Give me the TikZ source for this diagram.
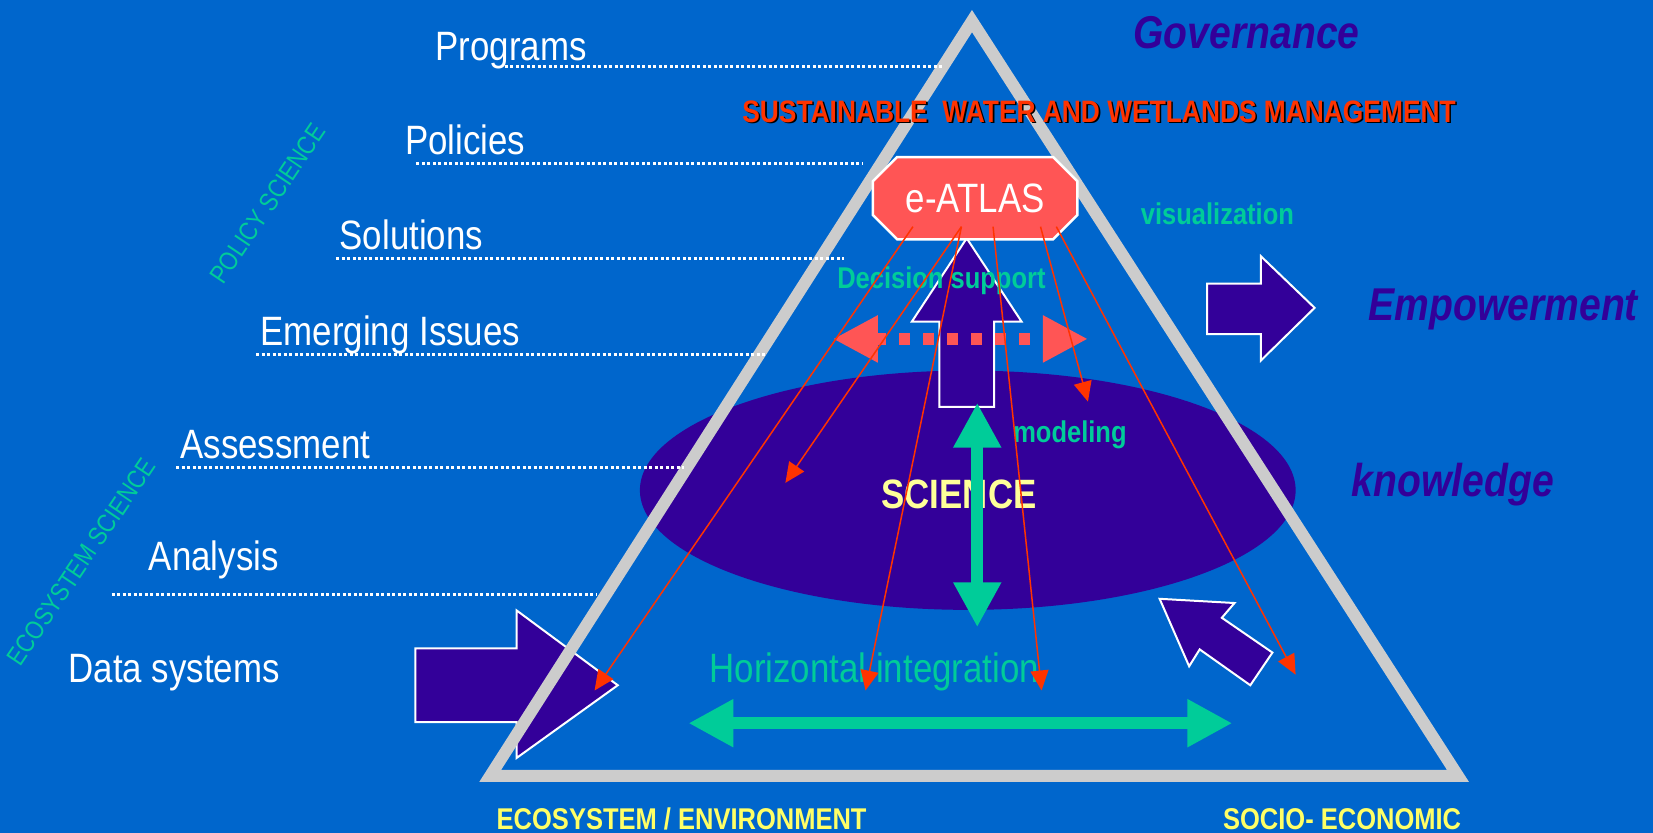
\documentclass[tikz,border=0pt]{standalone}
\usepackage{fontspec}
\setmainfont[FakeStretch=0.85]{Liberation Sans}
\usetikzlibrary{arrows.meta}
\definecolor{bgblue}{RGB}{0,102,204}
\definecolor{deeppurple}{RGB}{51,0,153}
\definecolor{mint}{RGB}{0,204,153}
\definecolor{salmon}{RGB}{255,85,85}
\definecolor{linkred}{RGB}{255,51,0}
\definecolor{framegray}{RGB}{204,204,204}
\definecolor{labelyellow}{RGB}{255,255,102}
\definecolor{paleyellow}{RGB}{255,255,153}
\newcommand{\fsz}[1]{\fontsize{#1}{#1}\selectfont}

\begin{document}
\begin{tikzpicture}[
    x=1.0542pt, y=-1.0542pt,
    lbl/.style={anchor=base west, inner sep=0pt, text=white, font=\fsz{41}},
    side/.style={anchor=base west, inner sep=0pt, text=deeppurple,
      font=\fsz{46}\bfseries\itshape},
    note/.style={anchor=base west, inner sep=0pt, text=mint, font=\fsz{30}\bfseries},
    foot/.style={anchor=base west, inner sep=0pt, text=labelyellow, font=\fsz{30}\bfseries},
    title/.style={anchor=base west, inner sep=0pt, text=linkred, font=\fsz{31}\bfseries},
    tilt/.style={inner sep=0pt, text=mint, font=\fsz{26}, rotate=56},
    dots/.style={white, line width=3pt, dash pattern=on 3pt off 2.5pt},
    block/.style={fill=deeppurple, draw=white, line width=2pt},
    frame/.style={draw=framegray, line width=12pt},
    linet/.style={draw=linkred, line width=1.5pt, -{Triangle[length=20pt,width=18pt]}},
    fat/.style={mint, line width=12pt,
      {Triangle[length=45pt,width=45pt]}-{Triangle[length=45pt,width=45pt]}},
    linkdash/.style={salmon, line width=12pt, dash pattern=on 11pt off 13pt,
      {Triangle[length=45pt,width=44pt]}-{Triangle[length=45pt,width=44pt]}}
  ]
  \path[use as bounding box, fill=bgblue] (0,0) rectangle (1568,790);

  \fill[deeppurple] (918,465) ellipse [x radius=311, y radius=113.5];
  \draw[block] (394,615) -- (490,615) -- (490,579) -- (586,650) -- (490,719)
    -- (490,685) -- (394,685) -- cycle;
  \draw[frame] (465,736) -- (922,20) -- (1383,736) -- cycle;
  \draw[block] (917,226) -- (969,305) -- (943,305) -- (943,386) -- (891,386)
    -- (891,305) -- (865,305) -- cycle;
  \draw[block] (1145,269) -- (1196,269) -- (1196,243) -- (1247,292) -- (1196,342)
    -- (1196,317) -- (1145,317) -- cycle;
  \draw[block] (1100,568) -- (1171,572) -- (1159,586) -- (1207,619) -- (1186,650)
    -- (1138,616) -- (1128,632) -- cycle;
  \draw[fill=salmon, draw=white, line width=2.5pt] (851,149) -- (999,149)
    -- (1022,172) -- (1022,204) -- (999,227) -- (851,227) -- (828,204)
    -- (828,172) -- cycle;

  \draw[dots] (479,63) -- (895,63);
  \draw[dots] (395,155) -- (819,155);
  \draw[dots] (319,245) -- (801,245);
  \draw[dots] (243,336) -- (726,336);
  \draw[dots] (167,443) -- (649,443);
  \draw[dots] (106,564) -- (566,564);

  \path (413,57) node(programs) [lbl] {Programs}
    (384,147) node(policies) [lbl] {Policies}
    (322,237) node(solutions) [lbl] {Solutions}
    (247,328) node(emerging) [lbl] {Emerging Issues}
    (171,435) node(assessment) [lbl] {Assessment}
    (141,541) node(analysis) [lbl] {Analysis}
    (65,647) node(datasys) [lbl] {Data systems};

  \path (254,193) node(policysci) [tilt] {POLICY SCIENCE}
    (77,533) node(ecosci) [tilt] {ECOSYSTEM SCIENCE};

  \path (1075,46) node(governance) [side] {Governance}
    (1298,304) node(empower) [side] {Empowerment}
    (1282,471) node(knowledge) [side] {knowledge};

  \path (705.5,117.5) node(sustshadow) [title, text=black]
      {SUSTAINABLE\ \ WATER AND WETLANDS MANAGEMENT}
    (704,116) node(sust) [title] {SUSTAINABLE\ \ WATER AND WETLANDS MANAGEMENT};

  \path (925,202) node(atlas) [lbl, anchor=base] {e-ATLAS}
    (1082,213) node(visual) [note] {visualization}
    (794,274) node(decision) [note] {Decision support}
    (961,420) node(modeling) [note] {modeling}
    (836,482) node(science) [lbl, text=paleyellow, font=\fsz{41}\bfseries] {SCIENCE}
    (673,647) node(horiz) [lbl, text=mint] {Horizontal integration}
    (471,787) node(ecoenv) [foot] {ECOSYSTEM / ENVIRONMENT}
    (1160,787) node(socio) [foot] {SOCIO- ECONOMIC};

  \coordinate (dl) at (790,321.5);
  \coordinate (dr) at (1032,321.5);
  \draw[linkdash] (dl) -- (dr);

  \coordinate (vt) at (927,382);
  \coordinate (vb) at (927,595);
  \coordinate (hl) at (653,686);
  \coordinate (hr) at (1169,686);
  \draw[fat] (vt) -- (vb);
  \draw[fat] (hl) -- (hr);

  \coordinate (s1) at (866,215);
  \coordinate (s2) at (912,215);
  \coordinate (s3) at (942,215);
  \coordinate (s4) at (987,215);
  \coordinate (s5) at (1002,215);
  \coordinate (e1) at (564,655);
  \coordinate (e2) at (745,458);
  \coordinate (e3) at (821,655);
  \coordinate (e4) at (988,655);
  \coordinate (e5) at (1032,381);
  \coordinate (e6) at (1229,640);
  \draw[linet] (s1) -- (e1);
  \draw[linet] (s2) -- (e2);
  \draw[linet] (s2) -- (e3);
  \draw[linet] (s3) -- (e4);
  \draw[linet] (s4) -- (e5);
  \draw[linet] (s5) -- (e6);
\end{tikzpicture}
\end{document}
